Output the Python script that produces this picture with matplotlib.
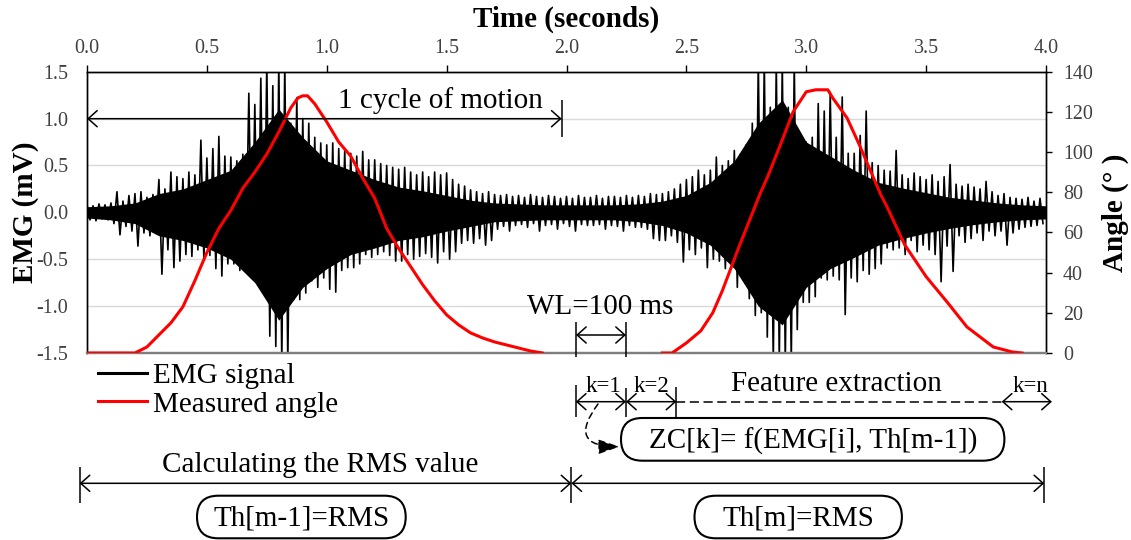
import numpy as np
import matplotlib
matplotlib.use("Agg")
import matplotlib.pyplot as plt
from matplotlib.patches import FancyBboxPatch
from matplotlib.lines import Line2D

plt.rcParams['font.family'] = ['Liberation Serif', 'DejaVu Serif']
plt.rcParams['axes.unicode_minus'] = False

# ---------------- data ----------------
# EMG spike extremes: one upper/lower extreme pair per 25 ms bin
emg_step = 0.025
emg_upper = [
    0.08, 0.07, 0.09, 0.08,  0.10, 0.22, 0.12, 0.18,  0.20, 0.22, 0.16, 0.19,
    0.35, 0.25, 0.43, 0.38,  0.36, 0.43, 0.40, 0.77,  0.58, 0.68, 0.81, 0.60,
    0.59, 0.55, 0.62, 1.27,  1.15, 1.43, 1.60, 1.35,  1.60, 1.60, 0.95, 1.22,
    1.00, 0.95, 0.80, 0.74,  0.72, 0.74, 0.68, 0.66,  0.63, 0.60, 0.65, 0.56,
    0.56, 0.52, 0.50, 0.48,  0.46, 0.48, 0.43, 0.40,  0.43, 0.38, 0.43, 0.40,
    0.42, 0.35, 0.30, 0.28,  0.24, 0.22, 0.20, 0.22,  0.19, 0.18, 0.19, 0.17,
    0.18, 0.16, 0.19, 0.17,  0.16, 0.18, 0.17, 0.15,  0.17, 0.15, 0.18, 0.16,
    0.16, 0.18, 0.15, 0.17,  0.17, 0.16, 0.18, 0.16,  0.18, 0.17, 0.20, 0.19,
    0.20, 0.22, 0.25, 0.30,  0.35, 0.38, 0.45, 0.40,  0.45, 0.59, 0.50, 0.55,
    0.66, 0.62, 0.72, 0.95,  1.60, 1.60, 1.12, 1.60,  1.60, 1.12, 1.60, 0.80,
    0.75, 0.80, 1.16, 1.08,  1.28, 0.80, 1.23, 0.63,  0.63, 0.82, 1.08, 0.53,
    0.50, 0.45, 0.44, 0.66,  0.40, 0.36, 0.42, 0.38,  0.35, 0.40, 0.33, 0.38,
    0.51, 0.30, 0.28, 0.30,  0.27, 0.25, 0.33, 0.22,  0.18, 0.20, 0.16, 0.15,
    0.14, 0.16, 0.12, 0.15,
]
emg_lower = [
    -0.08, -0.09, -0.07, -0.08,  -0.12, -0.24, -0.15, -0.20,  -0.36, -0.22, -0.25, -0.17,
    -0.66, -0.40, -0.59, -0.52,  -0.45, -0.47, -0.40, -0.50,  -0.46, -0.60, -0.68, -0.55,
    -0.55, -0.62, -0.58, -0.62,  -0.75, -0.86, -1.32, -1.43,  -1.60, -1.60, -0.93, -0.93,
    -0.86, -0.73, -0.80, -0.70,  -0.82, -0.85, -0.62, -0.59,  -0.59, -0.55, -0.45, -0.48,
    -0.45, -0.42, -0.46, -0.52,  -0.52, -0.45, -0.50, -0.47,  -0.44, -0.48, -0.54, -0.42,
    -0.50, -0.42, -0.33, -0.30,  -0.33, -0.28, -0.35, -0.30,  -0.18, -0.15, -0.20, -0.14,
    -0.13, -0.16, -0.12, -0.20,  -0.14, -0.13, -0.18, -0.12,  -0.15, -0.20, -0.13, -0.14,
    -0.14, -0.13, -0.18, -0.14,  -0.15, -0.20, -0.14, -0.16,  -0.16, -0.18, -0.28, -0.30,
    -0.30, -0.25, -0.32, -0.53,  -0.40, -0.45, -0.38, -0.59,  -0.50, -0.52, -0.60, -0.55,
    -0.80, -0.70, -0.92, -1.10,  -1.07, -1.33, -1.60, -1.60,  -1.60, -1.60, -1.25, -0.96,
    -0.96, -0.90, -0.70, -0.72,  -0.68, -0.72, -1.09, -0.70,  -0.74, -0.62, -0.66, -0.60,
    -0.55, -0.38, -0.40, -0.38,  -0.45, -0.30, -0.42, -0.35,  -0.40, -0.45, -0.74, -0.36,
    -0.63, -0.25, -0.32, -0.28,  -0.22, -0.30, -0.20, -0.25,  -0.20, -0.35, -0.22, -0.18,
    -0.16, -0.15, -0.14, -0.12,
]
# extent of the solid black core of the EMG trace, every 0.1 s
core_step = 0.1
core_upper = [0.06, 0.07, 0.10, 0.20, 0.25, 0.35, 0.45, 0.75, 1.10, 0.80,
              0.55, 0.45, 0.35, 0.27, 0.23, 0.18, 0.13, 0.10, 0.09, 0.08,
              0.08, 0.08, 0.08, 0.09, 0.12, 0.18, 0.32, 0.55, 0.95, 1.20,
              0.75, 0.60, 0.45, 0.32, 0.26, 0.21, 0.16, 0.13, 0.10, 0.08, 0.07]
core_lower = [-0.06, -0.08, -0.12, -0.25, -0.30, -0.38, -0.50, -0.75, -1.15, -0.80,
              -0.60, -0.45, -0.38, -0.30, -0.26, -0.20, -0.15, -0.10, -0.09, -0.08,
              -0.08, -0.08, -0.08, -0.10, -0.14, -0.22, -0.35, -0.60, -1.00, -1.20,
              -0.80, -0.60, -0.48, -0.35, -0.28, -0.22, -0.17, -0.13, -0.10, -0.08, -0.07]

angle_t1 = [0.0, 0.20, 0.25, 0.30, 0.35, 0.40, 0.45, 0.50, 0.55, 0.60, 0.65, 0.70,
            0.75, 0.80, 0.85, 0.88, 0.90, 0.92, 0.95, 1.00, 1.05, 1.10, 1.15, 1.20,
            1.25, 1.30, 1.35, 1.40, 1.45, 1.50, 1.55, 1.60, 1.65, 1.70, 1.75, 1.80,
            1.85, 1.90]
angle_v1 = [0, 0, 3, 9, 15, 23, 36, 50, 62, 71, 82, 90,
            99, 110, 122, 127, 128, 128, 124, 115, 105, 98, 87, 77,
            62, 52, 43, 34, 26, 19, 14, 10, 7.5, 5.5, 4, 2.5,
            1, 0]
angle_t2 = [2.40, 2.44, 2.50, 2.56, 2.61, 2.65, 2.72, 2.75, 2.81, 2.84, 2.89,
            2.945, 3.00, 3.04, 3.09, 3.11, 3.17, 3.22, 3.31, 3.34, 3.41, 3.50,
            3.59, 3.67, 3.78, 3.86, 3.90]
angle_v2 = [0, 0, 5, 11, 20, 31, 53, 62, 80, 88, 103,
            120, 130, 131, 131, 127, 117, 104, 79, 72, 54, 38,
            25, 13, 3, 0.5, 0]

time_ticks = [0.0, 0.5, 1.0, 1.5, 2.0, 2.5, 3.0, 3.5, 4.0]
emg_ticks = [-1.5, -1.0, -0.5, 0.0, 0.5, 1.0, 1.5]
angle_ticks = [0, 20, 40, 60, 80, 100, 120, 140]

# ---------------- figure ----------------
W, H = 1131, 540
fig = plt.figure(figsize=(W / 100, H / 100), dpi=100)
L, R, T, B = 87, 1046, 71.7, 353
ax = fig.add_axes([L / W, 1 - B / H, (R - L) / W, (B - T) / H])

tb = np.arange(len(emg_upper)) * emg_step
t_emg = np.empty(2 * len(tb))
v_emg = np.empty(2 * len(tb))
t_emg[0::2] = tb
t_emg[1::2] = tb + emg_step / 2
v_emg[0::2] = emg_upper
v_emg[1::2] = emg_lower
tc = np.arange(len(core_upper)) * core_step
ax.fill_between(tc, core_lower, core_upper, color='black', lw=0, zorder=2)
ax.plot(t_emg, v_emg, color='black', lw=1.2, zorder=2)

ax.set_xlim(0, 4)
ax.set_ylim(-1.5, 1.5)
ax.set_xticks(time_ticks)
ax.set_xticklabels([f"{v:.1f}" for v in time_ticks])
ax.set_yticks(emg_ticks)
ax.set_yticklabels([f"{v:.1f}" for v in emg_ticks])
ax.xaxis.tick_top()
ax.tick_params(axis='x', top=True, bottom=False, labeltop=True, labelbottom=False,
               direction='out', length=4.8, width=1, pad=5, labelsize=14.4,
               labelcolor='#404040')
ax.tick_params(axis='y', left=False, length=0, pad=13.5, labelsize=14.4,
               labelcolor='#404040')
ax.yaxis.grid(True, color='#d9d9d9', lw=1.0)
ax.set_axisbelow(True)

ax.set_xlabel('Time (seconds)', fontsize=21, fontweight='bold')
ax.xaxis.set_label_position('top')
ax.xaxis.set_label_coords(0.5, (B - 27) / (B - T))
ax.set_ylabel('EMG (mV)', fontsize=21, fontweight='bold')
ax.yaxis.set_label_coords((39 - L) / (R - L), 0.5)

ax2 = ax.twinx()
ax2.plot(angle_t1, angle_v1, color='#ff0000', lw=2.2, zorder=3)
ax2.plot(angle_t2, angle_v2, color='#ff0000', lw=2.2, zorder=3)
ax2.set_ylim(0, 140)
ax2.set_yticks(angle_ticks)
ax2.tick_params(axis='y', direction='out', length=4.3, width=1, pad=8,
                labelsize=14.4, labelcolor='#404040')
ax2.set_ylabel('Angle (° )', fontsize=21, fontweight='bold')
ax2.yaxis.set_label_coords((1101.5 - L) / (R - L), 0.5)

for a in (ax, ax2):
    for s in ('top', 'left', 'right'):
        a.spines[s].set_color('black')
        a.spines[s].set_linewidth(1.0)
    a.spines['bottom'].set_color('#7f7f7f')
    a.spines['bottom'].set_linewidth(1.6)

# legend
handles = [Line2D([], [], color='black', lw=2.2), Line2D([], [], color='#ff0000', lw=2.2)]
fig.legend(handles, ['EMG signal', 'Measured angle'], loc='upper left',
           bbox_to_anchor=(97.6 / W, 1 - 362.7 / H), frameon=False, fontsize=21,
           handlelength=1.7, handletextpad=0.2, labelspacing=0.07,
           borderpad=0, borderaxespad=0)

# ---------------- annotation overlay (pixel coordinates) ----------------
ov = fig.add_axes([0, 0, 1, 1], zorder=10)
ov.set_xlim(0, W)
ov.set_ylim(H, 0)
ov.axis('off')
ov.patch.set_visible(False)

LW = 1.1


def harrow(x1, x2, y, style='<->'):
    ov.annotate('', xy=(x2, y), xytext=(x1, y), annotation_clip=False,
                arrowprops=dict(arrowstyle=f'{style},head_length=0.65,head_width=0.58',
                                color='k', lw=LW, shrinkA=0, shrinkB=0,
                                mutation_scale=10))


def vbar(x, y1, y2):
    ov.plot([x, x], [y1, y2], color='k', lw=LW, solid_capstyle='butt')


def rbox(x0, x1, y0, y1, label):
    ov.add_patch(FancyBboxPatch((x0, y0), x1 - x0, y1 - y0,
                                boxstyle=f'round,pad=0,rounding_size={(y1 - y0) / 2:.1f}',
                                fc='white', ec='black', lw=1.5))
    ov.text((x0 + x1) / 2, y1 - 12.3, label, fontsize=21, ha='center', va='baseline')


# 1 cycle of motion
harrow(87, 561.7, 118.7)
vbar(561.7, 100, 137)
ov.text(440, 107.5, '1 cycle of motion', fontsize=21, ha='center', va='baseline')

# WL = 100 ms
ov.text(600, 314.5, 'WL=100 ms', fontsize=21, ha='center', va='baseline')
harrow(576, 626, 335)
vbar(576, 321.7, 356.7)
vbar(626, 321.7, 356.7)

# feature extraction row
ov.text(836.8, 391, 'Feature extraction', fontsize=21, ha='center', va='baseline')
for lab, xc in (('k=1', 603), ('k=2', 651), ('k=n', 1030)):
    ov.text(xc, 392, lab, fontsize=16.5, ha='center', va='baseline')
yk = 401.7
harrow(575.8, 626, yk)
harrow(626, 676.4, yk)
vbar(575.8, 385, 416.7)
vbar(626, 388, 416.7)
vbar(676.4, 386.7, 416.7)
ov.plot([676.4, 1001.7], [yk, yk], color='k', lw=LW, ls=(0, (6, 3)))
harrow(1001.7, 1051.9, yk)

# curved dashed arrow into the ZC box
ov.annotate('', xy=(619.5, 446.7), xytext=(598, 404), annotation_clip=False,
            arrowprops=dict(arrowstyle='-|>,head_length=1.3,head_width=0.45',
                            connectionstyle='arc3,rad=1.0', color='k', fc='k',
                            lw=LW, ls=(0, (4, 3)), shrinkA=0, shrinkB=0,
                            mutation_scale=10))
rbox(621, 1004.4, 418, 460.7, 'ZC[k]= f(EMG[i], Th[m-1])')

# RMS calculation row
ov.text(320.5, 472, 'Calculating the RMS value', fontsize=21, ha='center', va='baseline')
yb = 483.3
harrow(79.6, 571.4, yb)
harrow(571.4, 1044.3, yb)
vbar(79.6, 466.7, 503.3)
vbar(571.4, 466.7, 503.3)
vbar(1044.3, 466.7, 503.3)
rbox(197, 405.7, 495.7, 538.3, 'Th[m-1]=RMS')
rbox(694.5, 901.9, 495.7, 538.3, 'Th[m]=RMS')

fig.savefig('out.png', dpi=100)
